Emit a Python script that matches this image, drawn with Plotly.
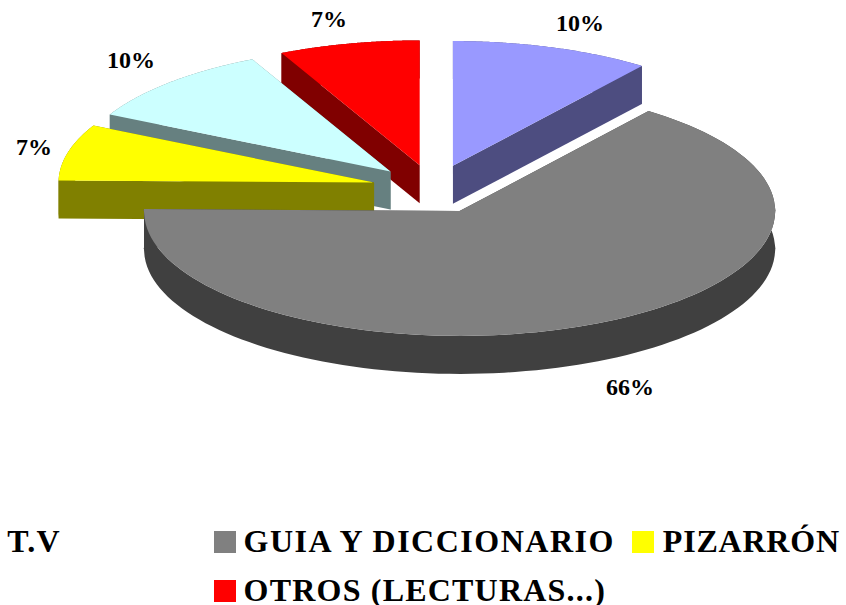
"""Exploded 3D-look pie chart drawn with filled Scatter traces on hidden axes."""

import json

import numpy as np
import plotly.graph_objects as go

# slice data, clockwise from 12 o'clock (shares)
slice_names = ["T.V", "GUIA Y DICCIONARIO", "PIZARRÓN", "CYAN", "OTROS (LECTURAS...)"]
slice_shares = [10.2, 65.7, 6.7, 10.2, 7.2]
top_colors = ["#9999FF", "#808080", "#FFFF00", "#CCFFFF", "#FF0000"]
side_colors = ["#4D4D80", "#404040", "#808000", "#668080", "#800000"]
draw_order = [0, 4, 3, 2, 1]

# pie projection, in page pixels
WIDTH, HEIGHT = 846, 605
CENTER_X, CENTER_Y = 433.5, 189
RADIUS_X, RADIUS_Y = 316, 125
DEPTH = 38
EXPLODE = 0.195
HORIZON = 0.054  # points this close to the horizon flatten onto it, as in the original

label_pos = [(580, 23), (630, 387), (34, 147), (131, 60), (329, 19)]
# slice index, text centre x, text centre y, swatch left x (None = no swatch)
legend_rows = [
    (0, 34, 541, None),
    (1, 429, 541, 214),
    (2, 751, 541, 632),
    (4, 424.5, 590, 214),
]
legend_spacing = {"GUIA Y DICCIONARIO": 1.5, "PIZARRÓN": 0.8, "OTROS (LECTURAS...)": 1.2, "T.V": 1.2}


def project(theta):
    """Angle (radians, clockwise from top) to unit x and foreshortened y."""
    c = np.cos(theta)
    y = np.sign(c) * np.sqrt(np.clip(c**2 - HORIZON**2, 0, None))
    return np.sin(theta), y


def poly(x, y, color):
    return go.Scatter(x=x, y=y, mode="none", fill="toself", fillcolor=color, hoverinfo="skip")


def slice_traces(start, end, top, side):
    mid = (start + end) / 2
    ax = EXPLODE * np.sin(mid)
    ay = EXPLODE * np.cos(mid)
    thetas = np.linspace(start, end, 120)
    ux, uy = project(thetas)
    x = ax + ux
    y = ay + uy
    d = DEPTH / RADIUS_Y

    # outer wall and two radial walls, then the top face
    traces = [poly(list(x) + list(x[::-1]), list(y) + list(y[::-1] - d), side)]
    for ex, ey in ((x[0], y[0]), (x[-1], y[-1])):
        traces.append(poly([ax, ex, ex, ax], [ay, ey, ey - d, ay - d], side))
    traces.append(poly([ax] + list(x), [ay] + list(y), top))
    return traces


total = sum(slice_shares)
edges = np.cumsum([0] + slice_shares) / total * 2 * np.pi

fig = go.Figure()
for i in draw_order:
    for tr in slice_traces(edges[i], edges[i + 1], top_colors[i], side_colors[i]):
        fig.add_trace(tr)

# percentage labels
for share, (px_x, px_y) in zip(slice_shares, label_pos):
    fig.add_annotation(
        x=px_x / WIDTH, y=1 - px_y / HEIGHT, xref="paper", yref="paper",
        text=f"<b>{round(100 * share / total)}%</b>", showarrow=False,
        font=dict(family="Liberation Serif", size=24, color="black"),
        xanchor="center", yanchor="middle",
    )

# hand-placed legend (the original has no swatch for T.V and drops one entry)
for i, px_x, px_y, swatch_x in legend_rows:
    fig.add_annotation(
        x=px_x / WIDTH, y=1 - px_y / HEIGHT, xref="paper", yref="paper",
        text=f"<b>{slice_names[i]}</b>", showarrow=False,
        font=dict(family="Liberation Serif", size=32, color="black"),
        xanchor="center", yanchor="middle",
    )
    if swatch_x is not None:
        fig.add_shape(
            type="rect", xref="paper", yref="paper",
            x0=swatch_x / WIDTH, x1=(swatch_x + 22) / WIDTH,
            y0=1 - (px_y + 12) / HEIGHT, y1=1 - (px_y - 10) / HEIGHT,
            fillcolor=top_colors[i], line_width=0,
        )

fig.update_layout(
    width=WIDTH, height=HEIGHT,
    margin=dict(l=0, r=0, t=0, b=0),
    paper_bgcolor="white", plot_bgcolor="white",
    showlegend=False,
    xaxis=dict(visible=False, range=[-CENTER_X / RADIUS_X, (WIDTH - CENTER_X) / RADIUS_X]),
    yaxis=dict(visible=False, range=[(CENTER_Y - HEIGHT) / RADIUS_Y, CENTER_Y / RADIUS_Y]),
)

# drop the page margin and widen the legend lettering a little
post_js = """
document.body.style.margin = '0';
var spacing = %s;
document.querySelectorAll('.annotation-text').forEach(function (t) {
  var s = spacing[t.textContent];
  if (s) { t.style.letterSpacing = s + 'px'; }
});
""" % json.dumps(legend_spacing)
fig.write_html("out.html", config=dict(displayModeBar=False), post_script=post_js)
